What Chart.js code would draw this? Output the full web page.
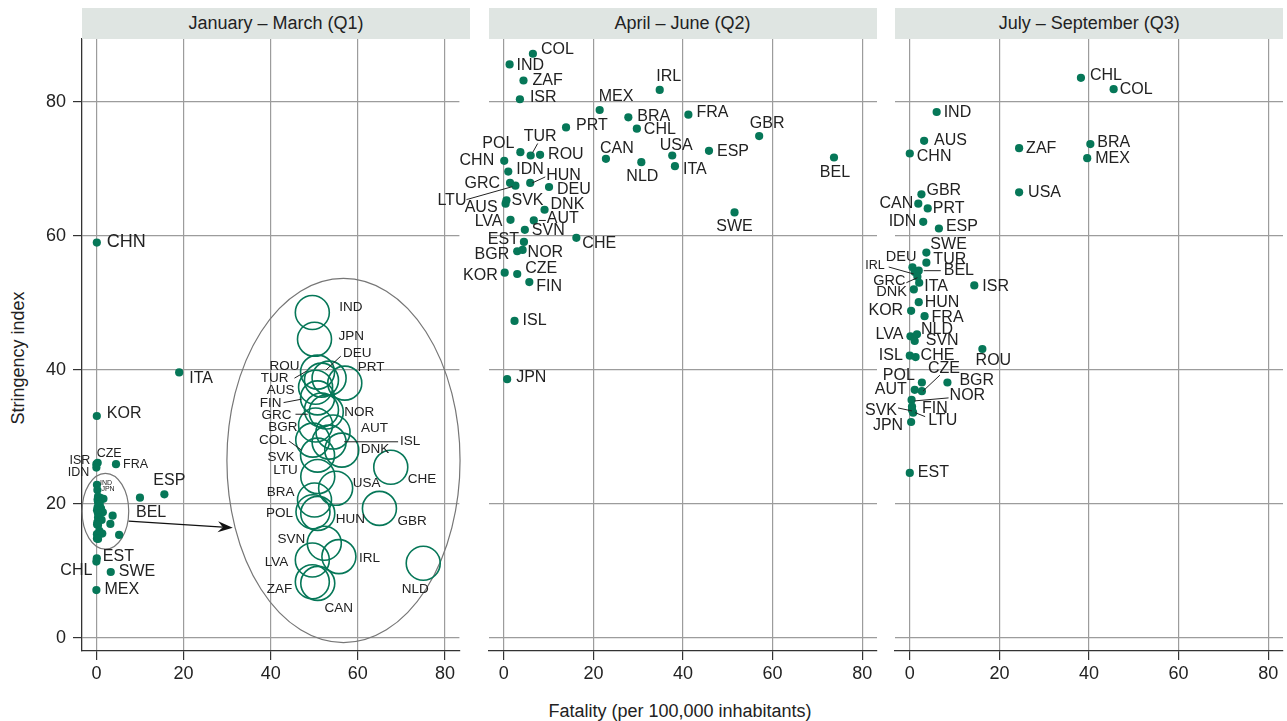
<!DOCTYPE html>
<html>
<head>
<meta charset="utf-8">
<script src="https://cdn.jsdelivr.net/npm/chart.js@4.4.1/dist/chart.umd.min.js"></script>
<style>
body{margin:0;width:1287px;height:721px;overflow:hidden;background:#fff;position:relative;font-family:'Liberation Sans',Arial,sans-serif;color:#222}
.panel{position:absolute;top:0;width:478px;height:700px}
.strip{position:absolute;top:8px;height:31px;width:388px;background:#dfe5e2;font-size:18px;line-height:31px;text-align:center;color:#222}
#ytitle{position:absolute;left:18px;top:358px;transform:translate(-50%,-50%) rotate(-90deg);white-space:nowrap;font-size:18px}
#xtitle{position:absolute;left:680px;top:711px;transform:translate(-50%,-50%);white-space:nowrap;font-size:18px}
</style>
</head>
<body>
<div id="ytitle">Stringency index</div>
<div id="xtitle">Fatality (per 100,000 inhabitants)</div>
<script>
// --- données ---
const panelTitles = ['January – March (Q1)', 'April – June (Q2)', 'July – September (Q3)'];
const xTicks = [0, 20, 40, 60, 80];
const yTicks = [0, 20, 40, 60, 80];

// Q1 : pays hors du petit groupe
const q1Codes = ['CHN', 'ITA', 'KOR', 'ISR', 'CZE', 'IDN', 'FRA', 'ESP', 'BEL', 'EST', 'CHL', 'SWE', 'MEX'];
const q1Fatality = [0.1, 19.0, 0.1, 0.0, 0.3, 0.0, 4.5, 15.6, 10.0, 0.1, 0.0, 3.3, 0.0];
const q1Stringency = [59.0, 39.6, 33.1, 25.9, 26.1, 25.4, 25.9, 21.4, 20.9, 11.85, 11.35, 9.8, 7.1];

// Q1 : petit groupe (agrandi dans l'ellipse)
const q1ClusterCodes = ['IND', 'JPN', 'ROU', 'TUR', 'DEU', 'PRT', 'AUS', 'FIN', 'GRC', 'NOR', 'BGR', 'AUT', 'ISL', 'COL', 'DNK',
  'SVK', 'LTU', 'USA', 'CHE', 'BRA', 'POL', 'HUN', 'GBR', 'SVN', 'IRL', 'LVA', 'NLD', 'ZAF', 'CAN'];
const q1ClusterFatality = [0.13, 0.23, 0.37, 0.55, 0.90, 1.62, 0.28, 0.37, 0.55, 0.77, 0.28, 1.08, 0.90, 0.15, 1.48,
  0.37, 0.38, 1.20, 3.73, 0.23, 0.16, 0.38, 3.21, 0.68, 1.35, 0.13, 5.22, 0.13, 0.38];
const q1ClusterStringency = [22.83, 22.03, 21.05, 20.81, 20.87, 20.72, 20.60, 20.28, 19.92, 19.86, 19.47, 19.26, 18.96, 19.02, 18.72,
  18.57, 17.93, 17.58, 18.21, 17.23, 16.88, 16.83, 16.98, 15.94, 15.54, 15.44, 15.34, 14.79, 14.74];

const q2Codes = ['COL', 'IND', 'ZAF', 'ISR', 'MEX', 'BRA', 'CHL', 'PRT', 'IRL', 'FRA', 'GBR', 'POL', 'TUR', 'ROU', 'CAN',
  'USA', 'ESP', 'CHN', 'NLD', 'ITA', 'BEL', 'IDN', 'GRC', 'LTU', 'HUN', 'DEU', 'AUS', 'SVK', 'DNK', 'LVA', 'AUT',
  'SVN', 'SWE', 'EST', 'CHE', 'BGR', 'NOR', 'KOR', 'CZE', 'FIN', 'ISL', 'JPN'];
const q2Fatality = [6.5, 1.3, 4.4, 3.6, 21.4, 27.8, 29.7, 13.9, 34.8, 41.2, 57.0, 3.7, 6.0, 8.1, 22.8,
  37.6, 45.8, 0.1, 30.7, 38.2, 73.7, 1.0, 1.4, 2.6, 5.9, 10.1, 0.4, 0.6, 9.1, 1.5, 6.7,
  4.7, 51.5, 4.5, 16.2, 3.0, 4.2, 0.2, 3.0, 5.7, 2.4, 0.75];
const q2Stringency = [87.2, 85.6, 83.2, 80.4, 78.8, 77.7, 76.0, 76.2, 81.8, 78.1, 74.9, 72.5, 72.0, 72.1, 71.5,
  72.0, 72.7, 71.2, 71.0, 70.4, 71.7, 69.6, 67.9, 67.5, 67.9, 67.3, 64.8, 65.3, 63.9, 62.4, 62.3,
  60.9, 63.5, 59.1, 59.7, 57.7, 57.9, 54.5, 54.3, 53.1, 47.3, 38.6];

const q3Codes = ['CHL', 'COL', 'IND', 'AUS', 'CHN', 'ZAF', 'BRA', 'MEX', 'USA', 'GBR', 'CAN', 'PRT', 'IDN', 'ESP',
  'SWE', 'TUR', 'DEU', 'IRL', 'BEL', 'GRC', 'ITA', 'DNK', 'ISR', 'HUN', 'KOR', 'FRA', 'LVA', 'NLD', 'SVN', 'ISL',
  'CHE', 'ROU', 'POL', 'AUT', 'CZE', 'BGR', 'NOR', 'FIN', 'SVK', 'LTU', 'JPN', 'EST'];
const q3Fatality = [38.2, 45.5, 6.0, 3.2, 0.0, 24.4, 40.3, 39.6, 24.4, 2.6, 1.9, 4.0, 3.0, 6.5,
  3.7, 3.7, 0.6, 1.1, 2.0, 1.7, 2.1, 0.9, 14.4, 2.0, 0.3, 3.3, 0.15, 1.6, 1.1, 0.0,
  1.3, 16.2, 2.7, 1.1, 2.7, 8.4, 0.4, 0.5, 0.5, 0.75, 0.3, 0.0];
const q3Stringency = [83.6, 81.9, 78.5, 74.2, 72.3, 73.1, 73.7, 71.6, 66.5, 66.2, 64.8, 64.1, 62.1, 61.1,
  57.5, 56.0, 55.3, 54.6, 54.8, 53.9, 53.0, 52.0, 52.6, 50.1, 48.8, 48.0, 45.0, 45.3, 44.3, 42.1,
  41.9, 43.1, 38.1, 37.0, 36.8, 38.1, 35.5, 34.5, 34.0, 33.6, 32.2, 24.6];

// --- mise en page ---
const FONT = "'Liberation Sans', Arial, sans-serif";
const GREEN = '#067758';
const GRID = '#9c9c9c';
const PANEL_STEP = 406.6;
// agrandissement de l'encart (x5)
const INSET_ZOOM = 5, INSET_X0 = 48.9, INSET_Y0 = -65.6;

// position des étiquettes : [dx, dy, align, taille, trait]
const q1Labels = {
  CHN: [10, -1, 'left', 18], ITA: [10, 6, 'left'], KOR: [10, -2, 'left'],
  ISR: [-6, -4, 'right', 12.5], CZE: [-1, -9, 'left', 12.5], IDN: [-7, 5, 'right', 12.5], FRA: [7, 0, 'left', 12.5],
  ESP: [5, -14, 'center'], BEL: [-4, 15, 'left'], EST: [6, -2, 'left'], CHL: [-4, 9, 'right'],
  SWE: [8, 0, 'left'], MEX: [8, 0, 'left']
};
const q1ClusterLabels = { IND: [3, -2, 'left', 7], JPN: [4, -1, 'left', 7] };
const q1InsetLabels = {
  IND: [27, -5, 'left'], JPN: [24, -3, 'left'], ROU: [-18, -6, 'right'],
  TUR: [-33, -2, 'right', null, [-27, -2, -15, -9]], DEU: [14, -25, 'left', null, [11.7, -22, -3.3, -8]],
  PRT: [13, -16, 'left'], AUS: [-21, 3, 'right'], FIN: [-36, 5, 'right', null, [-34, 4.7, -16, 1.3]],
  GRC: [-30, 5, 'right', null, [-26, 4.3, -13.7, 4.3]], NOR: [18, 0, 'left'], BGR: [-18, 2, 'right'],
  AUT: [28, -4, 'left'], ISL: [71, -1, 'left', null, [69, -0.3, 15, -0.3]],
  COL: [-26, 0, 'right', null, [-23.7, 1, -11.3, 10]], DNK: [19, -1, 'left'], SVK: [-23, 2, 'right'],
  LTU: [-20, -6, 'right'], USA: [17, -5, 'left'], CHE: [17, 12, 'left'], BRA: [-20, -8, 'right'],
  POL: [-20, 2, 'right'], HUN: [18, 6, 'left'], GBR: [18, 13, 'left'], SVN: [-19, -4, 'right'],
  IRL: [20, 2, 'left'], LVA: [-24, 2, 'right'], NLD: [-8, 26, 'center'], ZAF: [-20, 8, 'right'],
  CAN: [21, 25, 'center']
};
const q2Labels = {
  COL: [8, -4, 'left'], IND: [7, 1, 'left'], ZAF: [9, 0, 'left'], ISR: [10, -2, 'left'], MEX: [-1, -13, 'left'],
  BRA: [9, -1, 'left'], CHL: [7, 1, 'left'], PRT: [10, -2, 'left'], IRL: [9, -13, 'center'], FRA: [8, -2, 'left'],
  GBR: [8, -12, 'center'], POL: [-6, -9, 'right'], TUR: [-7, -19, 'left', null, [7, -12, 2, -3]],
  ROU: [8, 0, 'left'], CAN: [-6, -10, 'left'], USA: [4, -10, 'center'], ESP: [8, 1, 'left'],
  CHN: [-10, 0, 'right'], NLD: [1, 14, 'center'], ITA: [8, 3, 'left'], BEL: [1, 15, 'center'],
  IDN: [8, -2, 'left'], GRC: [-10, 1, 'right'], LTU: [-49, 15, 'right', null, [-49, 14, -3, 1]],
  HUN: [16, -7, 'left', null, [2, 0, 15, -6]], DEU: [8, 3, 'left'], AUS: [-8, 4, 'right'],
  SVK: [5, 0, 'left'], DNK: [6, -5, 'left'], LVA: [-8, 2, 'right'], AUT: [13, -2, 'left', null, [5, 0, 12, 0]],
  SVN: [7, 1, 'left'], SWE: [0, 14, 'center'], EST: [-5, -2, 'right'], CHE: [6, 6, 'left'],
  BGR: [-8, 3, 'right'], NOR: [5, 3, 'left'], KOR: [-7, 3, 'right'], CZE: [8, -5, 'left'],
  FIN: [7, 5, 'left'], ISL: [8, 0, 'left'], JPN: [9, -2, 'left']
};
const q3Labels = {
  CHL: [9, -2, 'left'], COL: [6, 0, 'left'], IND: [7, 1, 'left'], AUS: [10, 0, 'left'], CHN: [7, 3, 'left'],
  ZAF: [7, 0, 'left'], BRA: [7, -2, 'left'], MEX: [8, 0, 'left'], USA: [9, 0, 'left'], GBR: [5, -4, 'left'],
  CAN: [-5, 0, 'right'], PRT: [5, 0, 'left'], IDN: [-7, 0, 'right'], ESP: [7, -2, 'left'],
  SWE: [4, -8, 'left'], TUR: [7, -3, 'left'], DEU: [4, -10, 'right', 14.5],
  IRL: [-30, -6, 'right', 12.5, [-26, -5, -1, 2]], BEL: [25, 0, 'left', null, [5, 0, 22, 0]],
  GRC: [-12, 4, 'right', 14.5, [-11, 6, 0, 1]], ITA: [5, 4, 'left'], DNK: [-7, 3, 'right', 14.5],
  ISR: [8, 1, 'left'], HUN: [6, 0, 'left'], KOR: [-8, 0, 'right'], FRA: [7, 1, 'left'],
  LVA: [-7, -2, 'right'], NLD: [4, -5, 'left'], SVN: [11, 0, 'left'], ISL: [-7, 0, 'right'],
  CHE: [5, -1, 'left'], ROU: [11, 12, 'center'], POL: [-7, -7, 'right'], AUT: [-8, 0, 'right'],
  CZE: [6, -23, 'left', null, [18, -16, 1, 0]], BGR: [12, -2, 'left'],
  NOR: [38, -4, 'left', null, [37, -2, 3, 1]], FIN: [10, 2, 'left'],
  SVK: [-15, 1, 'right', null, [-14, -2, 0, 1]], LTU: [15, 8, 'left', null, [2, 0, 12, 4]],
  JPN: [-8, 4, 'right'], EST: [8, 0, 'left']
};

function toPoints(xs, ys) {
  return xs.map((x, i) => ({ x: x, y: ys[i] }));
}

// Étiquettes des pays, avec trait de rappel si besoin
const labelPlugin = {
  id: 'countryLabels',
  afterDatasetsDraw(chart) {
    const ctx = chart.ctx;
    chart.data.datasets.forEach((ds, di) => {
      if (!ds.labelTable) return;
      const pts = chart.getDatasetMeta(di).data;
      ctx.save();
      ds.codes.forEach((code, i) => {
        const spec = ds.labelTable[code];
        if (!spec) return;
        const p = pts[i];
        const leader = spec[4];
        if (leader) {
          ctx.beginPath();
          ctx.moveTo(p.x + leader[0], p.y + leader[1]);
          ctx.lineTo(p.x + leader[2], p.y + leader[3]);
          ctx.strokeStyle = '#222';
          ctx.lineWidth = 1;
          ctx.stroke();
        }
        ctx.font = (spec[3] || ds.labelSize) + 'px ' + FONT;
        ctx.fillStyle = '#222';
        ctx.textAlign = spec[2] || 'left';
        ctx.textBaseline = 'middle';
        ctx.fillText(code, p.x + spec[0], p.y + spec[1]);
      });
      ctx.restore();
    });
  }
};

// Ellipses + flèche du panneau Q1
const insetPlugin = {
  id: 'q1Inset',
  beforeDatasetsDraw(chart) {
    const xs = chart.scales.x, ys = chart.scales.y, ctx = chart.ctx;
    function ellipse(cx, cy, rx, ry) {
      const px = xs.getPixelForValue(cx), py = ys.getPixelForValue(cy);
      const prx = xs.getPixelForValue(cx + rx) - px, pry = py - ys.getPixelForValue(cy + ry);
      ctx.beginPath();
      ctx.ellipse(px, py, prx, pry, 0, 0, Math.PI * 2);
      ctx.stroke();
    }
    ctx.save();
    ctx.strokeStyle = '#767676';
    ctx.lineWidth = 1.2;
    ellipse(2.07, 18.87, 5.35, 5.67);
    ellipse(56.7, 26.45, 26.75, 27.2);
    // flèche
    const x1 = xs.getPixelForValue(7.4), y1 = ys.getPixelForValue(17.4);
    const x2 = xs.getPixelForValue(31.3), y2 = ys.getPixelForValue(16.4);
    const a = Math.atan2(y2 - y1, x2 - x1);
    ctx.strokeStyle = '#111';
    ctx.fillStyle = '#111';
    ctx.lineWidth = 1.2;
    ctx.beginPath();
    ctx.moveTo(x1, y1);
    ctx.lineTo(x2 - 10 * Math.cos(a), y2 - 10 * Math.sin(a));
    ctx.stroke();
    ctx.beginPath();
    ctx.moveTo(x2, y2);
    ctx.lineTo(x2 - 15 * Math.cos(a) + 5.5 * Math.sin(a), y2 - 15 * Math.sin(a) - 5.5 * Math.cos(a));
    ctx.lineTo(x2 - 10 * Math.cos(a), y2 - 10 * Math.sin(a));
    ctx.lineTo(x2 - 15 * Math.cos(a) - 5.5 * Math.sin(a), y2 - 15 * Math.sin(a) + 5.5 * Math.cos(a));
    ctx.closePath();
    ctx.fill();
    ctx.restore();
  }
};

function makeScales(first) {
  return {
    x: {
      type: 'linear', min: -3.3, max: 83.3,
      afterBuildTicks: s => { s.ticks = xTicks.map(v => ({ value: v })); },
      afterFit: s => { s.height = 49; },
      grid: { color: GRID, lineWidth: 1.2, tickColor: '#333', tickLength: 9 },
      border: { display: true, color: '#333', width: 1.3 },
      ticks: { color: '#222', font: { family: FONT, size: 18 }, padding: 3, maxRotation: 0 }
    },
    y: {
      type: 'linear', min: -2, max: 89.4,
      afterBuildTicks: s => { s.ticks = yTicks.map(v => ({ value: v })); },
      afterFit: s => { s.width = 82; },
      grid: { color: GRID, lineWidth: 1.2, tickColor: '#333', tickLength: 9, drawTicks: first },
      border: { display: first, color: '#333', width: 1.3 },
      ticks: { display: first, color: '#222', font: { family: FONT, size: 18 }, padding: 7 }
    }
  };
}

function dotDataset(codes, xs, ys, labels, size) {
  return {
    data: toPoints(xs, ys), codes: codes, labelTable: labels, labelSize: size,
    pointRadius: 4.1, pointBackgroundColor: GREEN, pointBorderWidth: 0, showLine: false, clip: false
  };
}

function buildPanel(i, datasets, plugins) {
  const wrap = document.createElement('div');
  wrap.className = 'panel';
  wrap.style.left = (PANEL_STEP * i) + 'px';
  const cv = document.createElement('canvas');
  cv.width = 478; cv.height = 700;
  wrap.appendChild(cv);
  document.body.appendChild(wrap);

  const strip = document.createElement('div');
  strip.className = 'strip';
  strip.style.left = (82 + PANEL_STEP * i) + 'px';
  strip.textContent = panelTitles[i];
  document.body.appendChild(strip);

  new Chart(cv.getContext('2d'), {
    type: 'scatter',
    data: { datasets: datasets },
    options: {
      responsive: false, animation: false, events: [],
      layout: { padding: { top: 39, right: 8, left: 0, bottom: 0 } },
      plugins: { legend: { display: false }, tooltip: { enabled: false } },
      scales: makeScales(i === 0)
    },
    plugins: plugins
  });
}

// Q1 : points, petit groupe et encart agrandi
const insetX = q1ClusterFatality.map(v => INSET_X0 + INSET_ZOOM * v);
const insetY = q1ClusterStringency.map(v => INSET_Y0 + INSET_ZOOM * v);
const insetSet = {
  data: toPoints(insetX, insetY), codes: q1ClusterCodes, labelTable: q1InsetLabels, labelSize: 13.5,
  pointRadius: 17, pointBackgroundColor: 'rgba(0,0,0,0)', pointBorderColor: GREEN, pointBorderWidth: 1.6,
  showLine: false, clip: false
};
buildPanel(0, [
  dotDataset(q1Codes, q1Fatality, q1Stringency, q1Labels, 16),
  dotDataset(q1ClusterCodes, q1ClusterFatality, q1ClusterStringency, q1ClusterLabels, 7),
  insetSet
], [insetPlugin, labelPlugin]);

buildPanel(1, [dotDataset(q2Codes, q2Fatality, q2Stringency, q2Labels, 16)], [labelPlugin]);
buildPanel(2, [dotDataset(q3Codes, q3Fatality, q3Stringency, q3Labels, 16)], [labelPlugin]);
</script>
</body>
</html>
